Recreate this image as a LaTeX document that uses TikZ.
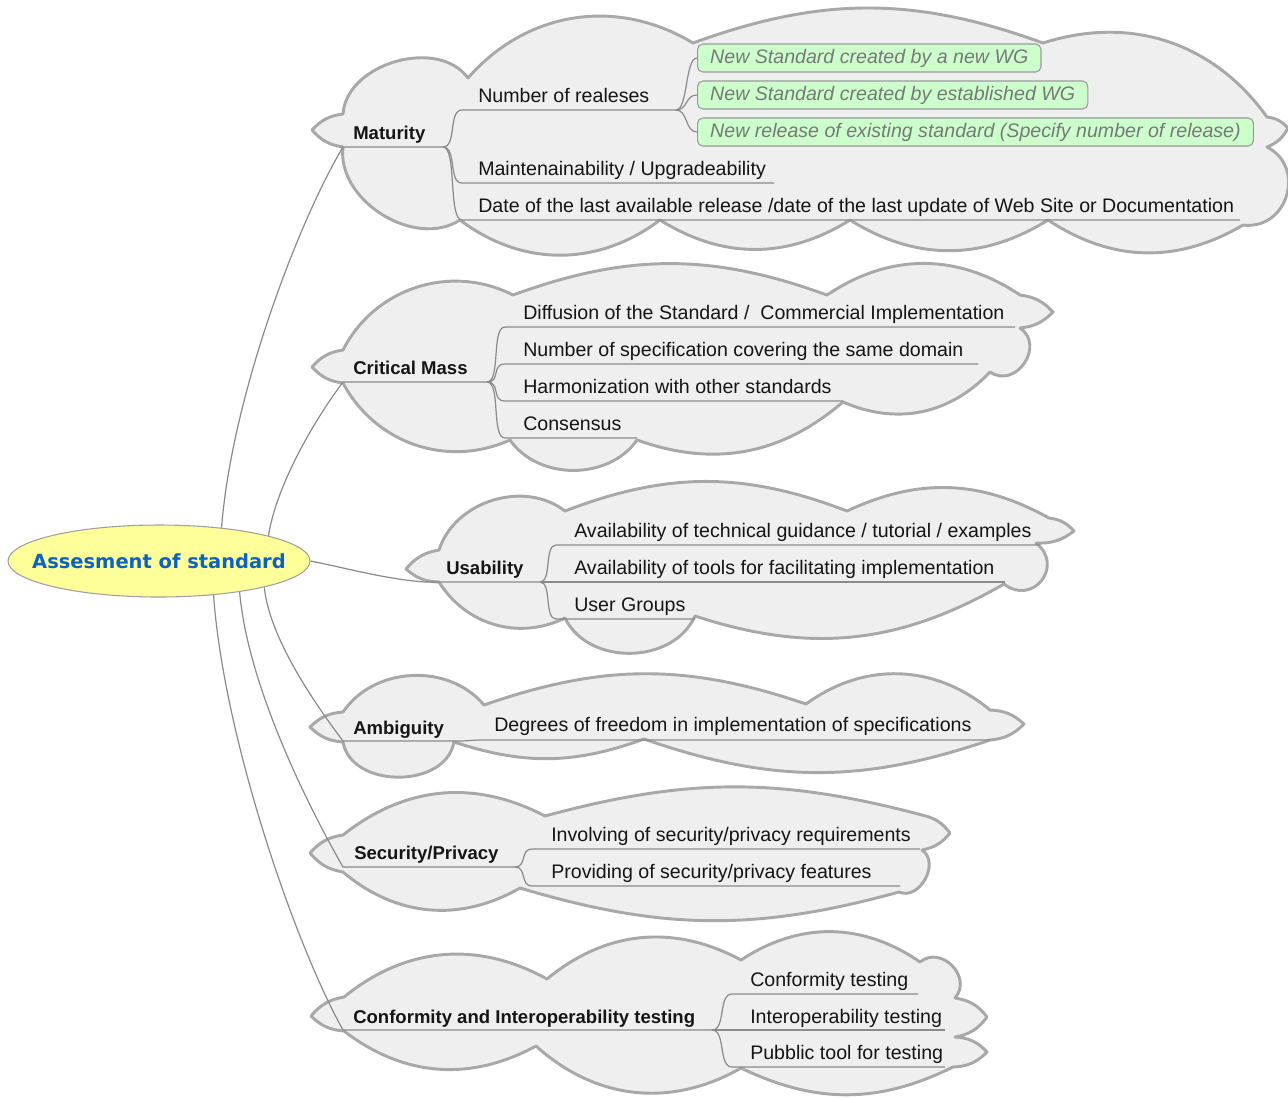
\documentclass[tikz,border=0pt]{standalone}
\usepackage{fontspec}
\setmainfont{Liberation Sans}
\newfontfamily\rootfont{DejaVu Sans}
\usetikzlibrary{shapes.geometric}
\definecolor{cloudfill}{HTML}{EFEFEF}
\definecolor{cloudline}{HTML}{A8A8A8}
\definecolor{linkgray}{HTML}{8A8A8A}
\definecolor{rootfill}{HTML}{FFFF99}
\definecolor{rootblue}{HTML}{0A62C4}
\definecolor{leaffill}{HTML}{CCFFCC}
\definecolor{leafline}{HTML}{9A9A9A}
\definecolor{leaftext}{HTML}{787878}
\definecolor{topictext}{HTML}{151515}
\tikzset{
  cloud/.style={draw=cloudline, fill=cloudfill, line width=2.2pt, line join=round},
  bl/.style={bend left=#1},
  link/.style={draw=linkgray, line width=0.9pt},
  topic/.style={anchor=base west, inner sep=0pt, text=topictext,
    font=\fontsize{13.9}{16}\selectfont\bfseries},
  sub/.style={anchor=base west, inner sep=0pt, text=topictext,
    font=\fontsize{14.7}{17}\selectfont},
  leaf/.style={anchor=west, draw=leafline, fill=leaffill, line width=0.8pt,
    rounded corners=4pt, minimum height=21pt, inner xsep=9.5pt, inner ysep=0pt,
    text=leaftext, font=\fontsize{14.7}{17}\selectfont\itshape},
}
\begin{document}
\begin{tikzpicture}[x=0.75pt,y=-0.75pt]
\fill[white] (0,0) rectangle (1288,1097);
\useasboundingbox (0,0) rectangle (1288,1097);

% ---------- clouds ----------
% Maturity
\path[cloud] (312,130) to[bl=20] (343,114) to[bl=70] (468,78) to[bl=40] (693,43)
  to[bl=20] (1043,43) to[bl=36] (1267,117) to[bl=20] (1288,128) to[bl=20] (1267,147)
  to[bl=80,looseness=1.4] (1243,225) to[bl=32] (1048,220) to[bl=32] (850,220)
  to[bl=32] (660,220) to[bl=37] (460,220) to[bl=65] (343,147) to[bl=20] (312,130) -- cycle;
% Critical Mass
\path[cloud] (312,367) to[bl=20] (343,350) to[bl=45] (513,295) to[bl=20] (827,295)
  to[bl=34] (1020,295) to[bl=20] (1053,312) to[bl=20] (1020,328)
  to[bl=90,looseness=1.5] (990,372) to[bl=35] (843,402) to[bl=30] (637,440)
  to[bl=55] (510,440) to[bl=43] (343,383) to[bl=20] (312,367) -- cycle;
% Usability
\path[cloud] (406,569) to[bl=20] (439,550) to[bl=55] (565,511) to[bl=21] (847,511)
  to[bl=27] (1049,518) to[bl=20] (1074,531) to[bl=20] (1036,543)
  to[bl=90,looseness=1.8] (1004,584) to[bl=24] (695,616) to[bl=65,looseness=1.05] (565,618)
  to[bl=42] (439,582) to[bl=20] (406,569) -- cycle;
% Ambiguity
\path[cloud] (310,727) to[bl=20] (343,712) to[bl=53] (484,705) to[bl=19] (806,704)
  to[bl=38] (990,710) to[bl=20] (1024,724) to[bl=20] (990,740)
  to[bl=19] (644,739) to[bl=19] (454,742) to[bl=80,looseness=1.1] (343,742)
  to[bl=20] (310,727) -- cycle;
% Security/Privacy
\path[cloud] (310,853) to[bl=20] (343,835) to[bl=33] (545,816) to[bl=15] (922,815)
  to[bl=20] (950,833) to[bl=20] (922,850) to[bl=85,looseness=1.2] (899,892)
  to[bl=16] (520,888) to[bl=35] (343,872) to[bl=20] (310,853) -- cycle;
% Conformity and Interoperability testing
\path[cloud] (311,1016) to[bl=20] (344,997) to[bl=34] (547,979) to[bl=34] (741,960)
  to[bl=34] (920,962) to[bl=85,looseness=1.4] (955,998) to[bl=22] (987,1017)
  to[bl=22] (955,1037) to[bl=22] (987,1052) to[bl=22] (953,1067)
  to[bl=26] (741,1068) to[bl=36] (536,1046) to[bl=33] (344,1031)
  to[bl=20] (311,1016) -- cycle;

% ---------- attachment points ----------
\coordinate (mat-a) at (343,147);  \coordinate (mat-b) at (443,147);
\coordinate (rel-a) at (462,110);  \coordinate (rel-b) at (676,110);
\coordinate (mnt-a) at (462,183);  \coordinate (mnt-b) at (774,183);
\coordinate (dat-a) at (462,220);  \coordinate (dat-b) at (1240,220);

\coordinate (crm-a) at (343,382);  \coordinate (crm-b) at (487,382);
\coordinate (dif-a) at (505,327);  \coordinate (dif-b) at (1015,327);
\coordinate (nsp-a) at (505,364);  \coordinate (nsp-b) at (978,364);
\coordinate (har-a) at (505,401);  \coordinate (har-b) at (843,401);
\coordinate (cns-a) at (505,438);  \coordinate (cns-b) at (637,438);

\coordinate (usa-a) at (425,582);  \coordinate (usa-b) at (540,582);
\coordinate (av1-a) at (556,545);  \coordinate (av1-b) at (1040,545);
\coordinate (av2-b) at (1005,582);
\coordinate (usg-a) at (556,619);  \coordinate (usg-b) at (695,619);

\coordinate (amb-a) at (343,741);  \coordinate (amb-b) at (462,741);
\coordinate (deg-a) at (478,740);  \coordinate (deg-b) at (990,740);

\coordinate (sec-a) at (343,867);  \coordinate (sec-b) at (515,867);
\coordinate (inv-a) at (532,849);  \coordinate (inv-b) at (920,849);
\coordinate (prv-a) at (532,886);  \coordinate (prv-b) at (900,886);

\coordinate (cnf-a) at (343,1030); \coordinate (cnf-b) at (712,1030);
\coordinate (cft-a) at (732,994);  \coordinate (cft-b) at (918,994);
\coordinate (iot-b) at (945,1030);
\coordinate (pbt-a) at (732,1067); \coordinate (pbt-b) at (945,1067);

% ---------- central topic ----------
\node[ellipse, draw=gray!75, line width=0.8pt, fill=rootfill, minimum width=226.5pt,
  minimum height=54pt, inner sep=0pt, text=rootblue,
  font=\rootfont\bfseries\fontsize{14.6}{17}\selectfont] (root) at (159,561)
  {\makebox[0pt]{Assesment of standard}};

% ---------- main branches ----------
\draw[link] (root.28)  .. controls +(10,-130) and +(-45,75)  .. (mat-a) -- (mat-b);
\draw[link] (root.13)  .. controls +(8,-50)   and +(-30,40)  .. (crm-a) -- (crm-b);
\draw[link] (root.0)   .. controls +(40,8)    and +(-40,-3)  .. (usa-a) -- (usa-b);
\draw[link] (root.-14) .. controls +(5,50)    and +(-30,-40) .. (amb-a) -- (amb-b);
\draw[link] (root.-21) .. controls +(8,90)    and +(-40,-70) .. (sec-a) -- (sec-b);
\draw[link] (root.-32) .. controls +(10,140)  and +(-50,-90) .. (cnf-a) -- (cnf-b);

% ---------- sub branches ----------
\draw[link] (mat-b) .. controls +(14,0) and +(-14,0) .. (rel-a) -- (rel-b);
\draw[link] (mat-b) .. controls +(14,0) and +(-14,0) .. (mnt-a) -- (mnt-b);
\draw[link] (mat-b) .. controls +(14,0) and +(-14,0) .. (dat-a) -- (dat-b);

\draw[link] (crm-b) .. controls +(14,0) and +(-14,0) .. (dif-a) -- (dif-b);
\draw[link] (crm-b) .. controls +(14,0) and +(-14,0) .. (nsp-a) -- (nsp-b);
\draw[link] (crm-b) .. controls +(14,0) and +(-14,0) .. (har-a) -- (har-b);
\draw[link] (crm-b) .. controls +(14,0) and +(-14,0) .. (cns-a) -- (cns-b);

\draw[link] (usa-b) .. controls +(12,0) and +(-12,0) .. (av1-a) -- (av1-b);
\draw[link] (usa-b) -- (av2-b);
\draw[link] (usa-b) .. controls +(12,0) and +(-12,0) .. (usg-a) -- (usg-b);

\draw[link] (amb-b) .. controls +(8,0) and +(-8,0) .. (deg-a) -- (deg-b);

\draw[link] (sec-b) .. controls +(12,0) and +(-12,0) .. (inv-a) -- (inv-b);
\draw[link] (sec-b) .. controls +(12,0) and +(-12,0) .. (prv-a) -- (prv-b);

\draw[link] (cnf-b) .. controls +(14,0) and +(-14,0) .. (cft-a) -- (cft-b);
\draw[link] (cnf-b) -- (iot-b);
\draw[link] (cnf-b) .. controls +(14,0) and +(-14,0) .. (pbt-a) -- (pbt-b);

% ---------- topic labels ----------
\node[topic] (mat) at (353,139) {Maturity};
\node[sub] (rel) at (478,102) {Number of realeses};
\node[sub] (mnt) at (478,175) {Maintenainability / Upgradeability};
\node[sub] (dat) at (478,212) {Date of the last available release /date of the last update of Web Site or Documentation};

\node[leaf] (lf1) at (697,58)  {New Standard created by a new WG};
\node[leaf] (lf2) at (697,95)  {New Standard created by established WG};
\node[leaf] (lf3) at (697,132) {New release of existing standard (Specify number of release)};
\draw[link] (rel-b) .. controls +(12,0) and +(-12,0) .. (lf1.west);
\draw[link] (rel-b) .. controls +(12,0) and +(-12,0) .. (lf2.west);
\draw[link] (rel-b) .. controls +(12,0) and +(-12,0) .. (lf3.west);

\node[topic] (crm) at (353,374) {Critical Mass};
\node[sub] (dif) at (523,319) {Diffusion of the Standard /\ \ Commercial Implementation};
\node[sub] (nsp) at (523,356) {Number of specification covering the same domain};
\node[sub] (har) at (523,393) {Harmonization with other standards};
\node[sub] (cns) at (523,430) {Consensus};

\node[topic] (usa) at (446,574) {Usability};
\node[sub] (av1) at (574,537) {Availability of technical guidance / tutorial / examples};
\node[sub] (av2) at (574,574) {Availability of tools for facilitating implementation};
\node[sub] (usg) at (574,611) {User Groups};

\node[topic] (amb) at (353,734) {Ambiguity};
\node[sub] (deg) at (494,731) {Degrees of freedom in implementation of specifications};

\node[topic] (sec) at (354,859) {Security/Privacy};
\node[sub] (inv) at (551,841) {Involving of security/privacy requirements};
\node[sub] (prv) at (551,878) {Providing of security/privacy features};

\node[topic] (cnf) at (353,1023) {Conformity and Interoperability testing};
\node[sub] (cft) at (750,986) {Conformity testing};
\node[sub] (iot) at (750,1023) {Interoperability testing};
\node[sub] (pbt) at (750,1059) {Pubblic tool for testing};
\end{tikzpicture}
\end{document}
